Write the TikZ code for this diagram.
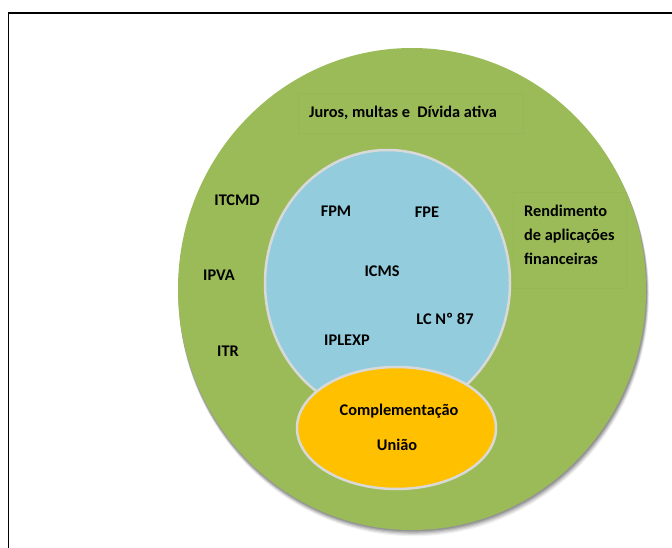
\documentclass[tikz,border=0pt]{standalone}
\usepackage{fontspec}
\setmainfont{Carlito}
\usetikzlibrary{shapes.geometric}
\definecolor{outergreen}{HTML}{9BBB59}
\definecolor{innerblue}{HTML}{93CDDD}
\definecolor{unionorange}{HTML}{FFC000}
\definecolor{rimgray}{HTML}{D9D9D9}
\definecolor{boxgreen}{HTML}{97B757}
\tikzset{
  blob/.style={ellipse, inner sep=0pt, draw=rimgray, line width=2.5pt},
  lbl/.style={font=\bfseries\fontsize{16.3}{24}\selectfont, text=black, inner sep=0pt},
  faintbox/.style={draw=boxgreen, line width=0.6pt, inner sep=0pt}
}
\begin{document}
\begin{tikzpicture}[x=1pt,y=-1pt]
\useasboundingbox (0,0) rectangle (672,548);
\begin{scope}
\clip (0,0) rectangle (672,548);
\fill[white] (0,0) rectangle (672,548);
\draw[black, line width=1.8pt] (8.5,13) rectangle (690,570);
% shadow of the outer ellipse
\foreach \o/\a in {6/0.06,5/0.08,4/0.10,3/0.12,2/0.14}{
  \fill[black, opacity=\a] (412+0.3*\o,289+\o) ellipse [x radius=234+0.2*\o, y radius=240+0.2*\o];
}
\node[ellipse, inner sep=0pt, fill=outergreen, minimum width=468pt, minimum height=482pt] (outer) at (412,289) {};
\node[faintbox, minimum width=225pt, minimum height=40pt] (jbox) at (410.5,113) {};
\node[faintbox, minimum width=113pt, minimum height=96pt] (rbox) at (569.5,240) {};
\node[blob, fill=innerblue, minimum width=245pt, minimum height=266pt] (inner) at (387.5,283) {};
\node[blob, fill=unionorange, minimum width=199pt, minimum height=122pt] (union) at (396.5,428) {};
\end{scope}
\node[lbl] (juros) at (403,113) {Juros, multas e\ \ Dívida ativa};
\node[lbl] (itcmd) at (237,200) {ITCMD};
\node[lbl] (ipva) at (219,275) {IPVA};
\node[lbl] (itr) at (228,351) {ITR};
\node[lbl] (fpm) at (336,211) {FPM};
\node[lbl] (fpe) at (427,212) {FPE};
\node[lbl] (icms) at (382,271) {ICMS};
\node[lbl] (lc) at (445,319) {LC Nº 87};
\node[lbl] (iplexp) at (347,340) {IPLEXP};
\node[lbl] (compl) at (399,411) {Complementação};
\node[lbl] (uniao) at (397,445) {União};
\node[lbl, align=left, anchor=north west] (rend) at (524,205) {Rendimento\\de aplicações\\financeiras};
\end{tikzpicture}
\end{document}
